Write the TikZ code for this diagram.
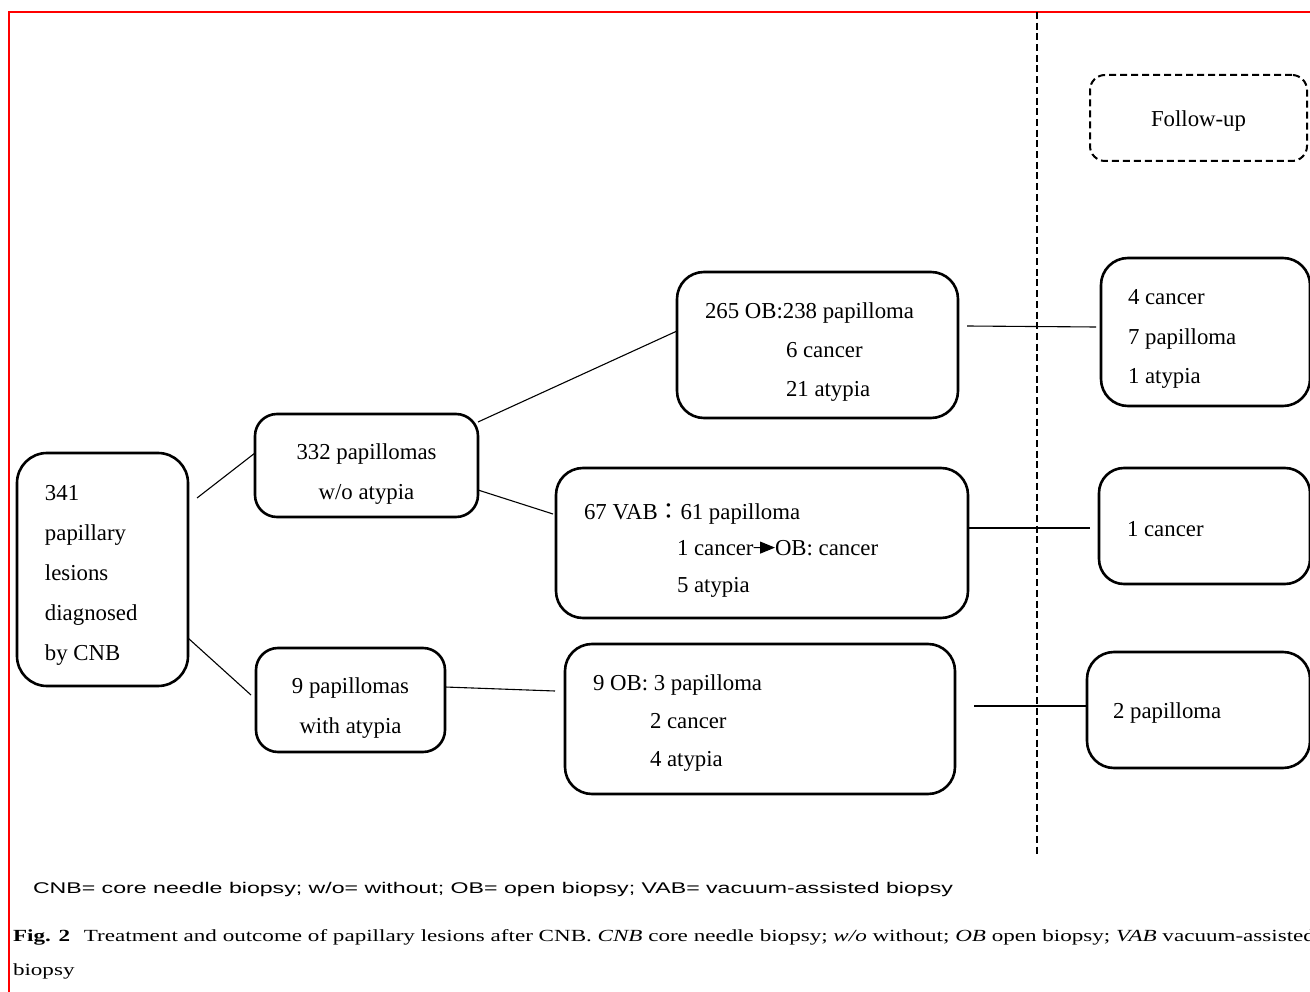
\documentclass[tikz,border=0pt]{standalone}
\usepackage{graphicx}
\usepackage{fontspec}
\setmainfont{Liberation Serif}
\newfontfamily\legendfont{Liberation Sans}
\newfontfamily\cjkfont{Noto Sans CJK JP}
\usetikzlibrary{arrows.meta}
\newsavebox\caplinebox
\newsavebox\capbiopsybox
\newlength\caplinelen
\begin{document}
\sbox\caplinebox{\fontsize{17}{20}\selectfont\textbf{Fig. 2}\hspace{0.6em}Treatment and outcome of papillary lesions after CNB. \textit{CNB} core needle biopsy; \textit{w/o} without; \textit{OB} open biopsy; \textit{VAB} vacuum-assisted}%
\sbox\capbiopsybox{\fontsize{17}{20}\selectfont biopsy}%
\setlength\caplinelen{\wd\caplinebox}%
\begin{tikzpicture}[x=1pt,y=-1pt,
  box/.style={draw=black, line width=2.6pt, rounded corners=#1, anchor=north west, inner sep=0pt, outer sep=0pt},
  box/.default=25pt,
  fubox/.style={draw=black, line width=2pt, dash pattern=on 7pt off 4pt, rounded corners=15pt, anchor=north west, inner sep=0pt, outer sep=0pt},
  txt/.style={anchor=base west, inner sep=0pt, outer sep=0pt, font=\fontsize{22.8}{27}\selectfont},
  ctxt/.style={anchor=base, inner sep=0pt, outer sep=0pt, font=\fontsize{22.8}{27}\selectfont},
  conn/.style={draw=black, line width=1.1pt},
  divider/.style={draw=black, line width=2pt, dash pattern=on 7pt off 3.7pt},
  frameline/.style={draw=red, line width=2pt}
]
\useasboundingbox (0,0) rectangle (1310,992);
\fill[white] (0,0) rectangle (1310,992);
\pgfmathsetmacro\capsx{1302/\caplinelen}

% red frame (only top and left visible)
\coordinate (frbl) at (8.9,992);
\coordinate (frtl) at (8.9,12);
\coordinate (frtr) at (1310,12);
\draw[frameline] (frbl) -- (frtl) -- (frtr);

% vertical dashed divider
\coordinate (vtop) at (1037,12);
\coordinate (vbot) at (1037,855);
\draw[divider] (vtop) -- (vbot);

% boxes
\node[box=30pt, minimum width=171pt, minimum height=233pt] (A) at (17,453) {};
\node[box=22pt, minimum width=223pt, minimum height=103pt] (B) at (255,414) {};
\node[box=22pt, minimum width=189pt, minimum height=104pt] (C) at (256,648) {};
\node[box=27pt, minimum width=281pt, minimum height=146pt] (D) at (677,272) {};
\node[box=27pt, minimum width=412pt, minimum height=150pt] (E) at (556,468) {};
\node[box=27pt, minimum width=390pt, minimum height=150pt] (F) at (565,644) {};
\node[box=27pt, minimum width=209pt, minimum height=148pt] (G) at (1101,258) {};
\node[box=25pt, minimum width=211pt, minimum height=116pt] (H) at (1099,468) {};
\node[box=27pt, minimum width=223pt, minimum height=116pt] (I) at (1087,652) {};
\node[fubox, minimum width=217pt, minimum height=86pt] (FU) at (1090,75) {};

% texts
\node[ctxt] (futxt) at (1198.5,127) {Follow-up};

\node[txt] (a1t) at (45,500) {341};
\node[txt] (a2t) at (45,540) {papillary};
\node[txt] (a3t) at (45,580) {lesions};
\node[txt] (a4t) at (45,620) {diagnosed};
\node[txt] (a5t) at (45,660) {by CNB};

\node[ctxt] (b1t) at (366.5,459) {332 papillomas};
\node[ctxt] (b2t) at (366.5,499) {w/o atypia};

\node[ctxt] (c1t) at (350.5,693) {9 papillomas};
\node[ctxt] (c2t) at (350.5,733) {with atypia};

\node[txt] (d1t) at (705,319) {265 OB:238 papilloma};
\node[txt] (d2t) at (786,358) {6 cancer};
\node[txt] (d3t) at (786,397) {21 atypia};

\node[txt] (e1t) at (584,519) {67 VAB{\cjkfont ：}61 papilloma};
\node[txt] (e2t) at (677,555) {1 cancer};
\node[txt] (e3t) at (775,555) {OB: cancer};
\node[txt] (e4t) at (677,592) {5 atypia};
\draw[draw=black, line width=1.1pt, -{Triangle[length=15pt,width=12pt]}] (e2t.east) -- (e3t.west);

\node[txt] (f1t) at (593,690) {9 OB: 3 papilloma};
\node[txt] (f2t) at (650,728) {2 cancer};
\node[txt] (f3t) at (650,766) {4 atypia};

\node[txt] (g1t) at (1128,305) {4 cancer};
\node[txt] (g2t) at (1128,345) {7 papilloma};
\node[txt] (g3t) at (1128,384) {1 atypia};

\node[txt] (h1t) at (1127,536) {1 cancer};

\node[txt] (i1t) at (1113,718) {2 papilloma};

% connector end coordinates
\coordinate (ab0) at (197,498);
\coordinate (ac1) at (251,695);
\coordinate (be1) at (553,514);
\coordinate (cf1) at (555,691);
\coordinate (dg0) at (967,326);
\coordinate (dg1) at (1096,327);
\coordinate (eh1) at (1090,528);
\coordinate (fi0) at (974,706);

% connectors
\draw[conn] (ab0) -- (B.west |- 0,453);
\draw[conn] (A.east |- 0,638) -- (ac1);
\draw[conn] (B.east |- 0,422) -- (D.west |- 0,331);
\draw[conn] (B.east |- 0,490) -- (be1);
\draw[conn] (C.east |- 0,687) -- (cf1);
\draw[conn] (dg0) -- (dg1);
\draw[conn] (E.east |- 0,528) -- (eh1);
\draw[conn] (fi0) -- (I.west |- 0,706);

% legend
\node[anchor=base west, inner sep=0pt, outer sep=0pt] (legend) at (33,893)
  {\resizebox{920pt}{\height}{\legendfont\fontsize{15.5}{18}\selectfont CNB= core needle biopsy; w/o= without; OB= open biopsy; VAB= vacuum-assisted biopsy}};

% caption
\node[anchor=base west, inner sep=0pt, outer sep=0pt] (cap1) at (13,941)
  {\scalebox{\capsx}[1]{\usebox\caplinebox}};
\node[anchor=base west, inner sep=0pt, outer sep=0pt] (cap2) at (13,975)
  {\scalebox{\capsx}[1]{\usebox\capbiopsybox}};
\end{tikzpicture}
\end{document}
